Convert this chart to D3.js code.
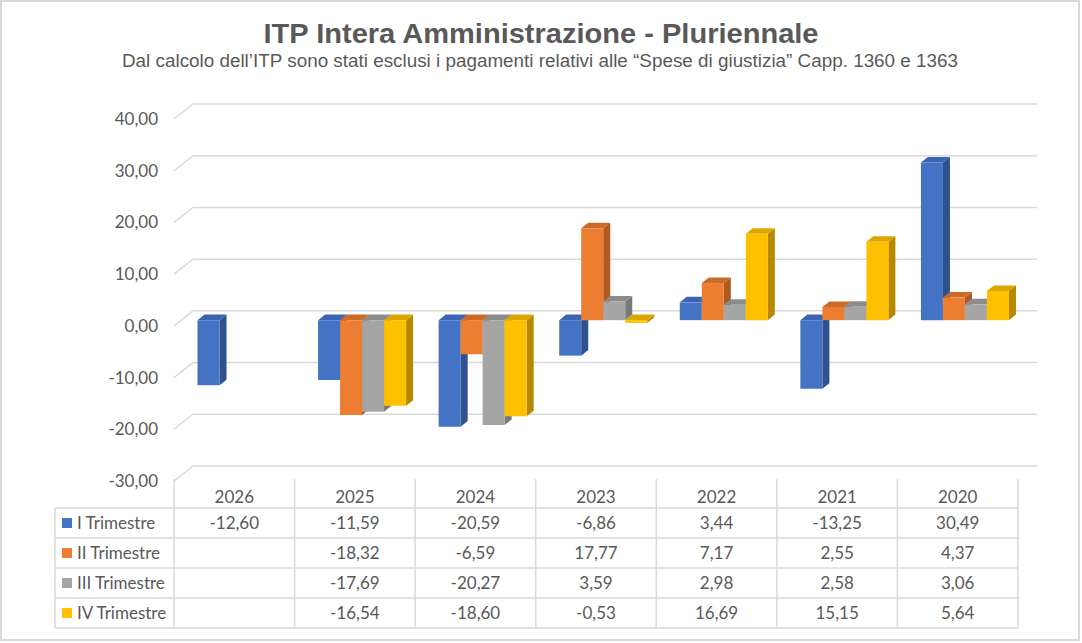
<!DOCTYPE html>
<html>
<head>
<meta charset="utf-8">
<script src="https://cdn.jsdelivr.net/npm/d3@7/dist/d3.min.js"></script>
<style>
  html, body { margin: 0; padding: 0; background: #fff; }
  svg { display: block; }
</style>
</head>
<body>
<svg id="chart" width="1082" height="643"></svg>
<script>
// ---- Data ----
const categories = ["2026", "2025", "2024", "2023", "2022", "2021", "2020"];
const seriesNames = ["I Trimestre", "II Trimestre", "III Trimestre", "IV Trimestre"];
const trimestre1 = [-12.60, -11.59, -20.59, -6.86, 3.44, -13.25, 30.49];
const trimestre2 = [null, -18.32, -6.59, 17.77, 7.17, 2.55, 4.37];
const trimestre3 = [null, -17.69, -20.27, 3.59, 2.98, 2.58, 3.06];
const trimestre4 = [null, -16.54, -18.60, -0.53, 16.69, 15.15, 5.64];
const yTicks = [-30, -20, -10, 0, 10, 20, 30, 40];
const titleText = "ITP Intera Amministrazione - Pluriennale";
const subtitleText = "Dal calcolo dell\u2019ITP sono stati esclusi i pagamenti relativi alle \u201cSpese di giustizia\u201d Capp. 1360 e 1363";

const seriesValues = [trimestre1, trimestre2, trimestre3, trimestre4];
const faceColors = [
  {front: "#4472C4", top: "#3B65B3", side: "#2F528F"},
  {front: "#ED7D31", top: "#CC6A28", side: "#AE5A21"},
  {front: "#A5A5A5", top: "#8C8C8C", side: "#787878"},
  {front: "#FFC000", top: "#DCA600", side: "#B58A00"}
];

const svg = d3.select("#chart");
const textColor = "#595959";
const gridColor = "#D9D9D9";
const font = "Lato, 'Open Sans', sans-serif";
const fs = 17;

// background + frame
svg.append("rect").attr("x", 0).attr("y", 0).attr("width", 1082).attr("height", 643).attr("fill", "#fff");
svg.append("rect").attr("x", 1).attr("y", 1).attr("width", 1078).attr("height", 639)
  .attr("fill", "none").attr("stroke", gridColor).attr("stroke-width", 2);

// titles
svg.append("text").attr("x", 541).attr("y", 43).attr("text-anchor", "middle")
  .attr("font-family", "'Liberation Sans', Arial, sans-serif").attr("font-weight", "bold")
  .attr("font-size", 28).attr("fill", textColor)
  .attr("textLength", 555).attr("lengthAdjust", "spacingAndGlyphs")
  .text(titleText);
svg.append("text").attr("x", 540).attr("y", 67).attr("text-anchor", "middle")
  .attr("font-family", "'Liberation Sans', Arial, sans-serif")
  .attr("font-size", 17.5).attr("fill", textColor)
  .attr("textLength", 836).attr("lengthAdjust", "spacingAndGlyphs")
  .text(subtitleText);

// ---- Geometry (front plane + depth) ----
const X0 = 174, X1 = 1018;
const DX = 19, DY = 15;           // offset of back wall from front plane
const F1 = 0.38, F2 = 0.75;       // bar front/back depth fractions

const x = d3.scaleBand().domain(categories).range([X0, X1]).paddingInner(0).paddingOuter(0);
const y = d3.scaleLinear().domain([-30, 40]).range([481, 119]);
const bw = x.bandwidth();
const xs = d3.scaleBand().domain(seriesNames).range([bw * 0.135, bw * 0.865]).padding(0);

const P = (px, v, d) => [px + d * DX, y(v) - d * DY];

// gridlines: left wall diagonal + back wall horizontal
const grid = svg.append("g").attr("stroke", gridColor).attr("stroke-width", 1.5).attr("fill", "none");
yTicks.forEach(t => {
  const a = P(X0, t, 0), b = P(X0, t, 1), c = P(X1, t, 1);
  grid.append("path").attr("d", `M${a[0]},${a[1]}L${b[0]},${b[1]}L${c[0]},${c[1]}`);
});

// y-axis labels
const fmt = d3.formatLocale({decimal: ",", thousands: ".", grouping: [3], currency: ["", "\u20ac"], minus: "-"}).format(".2f");
svg.append("g").selectAll("text").data(yTicks).join("text")
  .attr("x", 158).attr("y", d => y(d)).attr("dy", "0.35em")
  .attr("text-anchor", "end").attr("font-family", font).attr("font-size", fs)
  .attr("fill", textColor).text(d => fmt(d));

// bars
const bars = svg.append("g");
categories.forEach((cat, ci) => {
  seriesNames.forEach((s, si) => {
    const v = seriesValues[si][ci];
    if (v === null || v === undefined) return;
    const xl = x(cat) + xs(s), xr = xl + xs.bandwidth();
    const top = Math.max(v, 0), bot = Math.min(v, 0);
    const c = faceColors[si];
    const poly = pts => "M" + pts.map(p => p.join(",")).join("L") + "Z";
    bars.append("path").attr("fill", c.side)
      .attr("d", poly([P(xr, top, F1), P(xr, top, F2), P(xr, bot, F2), P(xr, bot, F1)]));
    bars.append("path").attr("fill", c.top)
      .attr("d", poly([P(xl, top, F1), P(xl, top, F2), P(xr, top, F2), P(xr, top, F1)]));
    bars.append("path").attr("fill", c.front)
      .attr("d", poly([P(xl, top, F1), P(xr, top, F1), P(xr, bot, F1), P(xl, bot, F1)]));
  });
});

// ---- data table ----
const rowTop = 508, rowH = 30, headTop = 479, TL = 55;
const tbl = svg.append("g").attr("stroke", gridColor).attr("stroke-width", 1.5);
const bounds = categories.map(c => x(c)).concat([X1]);
bounds.forEach(bx => tbl.append("line").attr("x1", bx).attr("x2", bx).attr("y1", headTop).attr("y2", rowTop + rowH * 4));
tbl.append("line").attr("x1", TL).attr("x2", TL).attr("y1", rowTop).attr("y2", rowTop + rowH * 4);
d3.range(5).forEach(i => tbl.append("line").attr("x1", TL).attr("x2", X1)
  .attr("y1", rowTop + i * rowH).attr("y2", rowTop + i * rowH));

const tt = svg.append("g").attr("font-family", font).attr("font-size", fs).attr("fill", textColor);
tt.selectAll("text.hdr").data(categories).join("text").attr("class", "hdr")
  .attr("x", d => x(d) + bw / 2).attr("y", (headTop + rowTop) / 2 + 4).attr("dy", "0.35em")
  .attr("text-anchor", "middle").text(d => d);

seriesNames.forEach((s, si) => {
  const cy = rowTop + si * rowH + rowH / 2;
  svg.append("rect").attr("x", 62).attr("y", cy - 5).attr("width", 10).attr("height", 10)
    .attr("fill", faceColors[si].front);
  tt.append("text").attr("x", 77).attr("y", cy).attr("dy", "0.35em").text(s);
  categories.forEach((cat, ci) => {
    const v = seriesValues[si][ci];
    if (v === null || v === undefined) return;
    tt.append("text").attr("x", x(cat) + bw / 2).attr("y", cy).attr("dy", "0.35em")
      .attr("text-anchor", "middle").text(fmt(v));
  });
});
</script>
</body>
</html>
